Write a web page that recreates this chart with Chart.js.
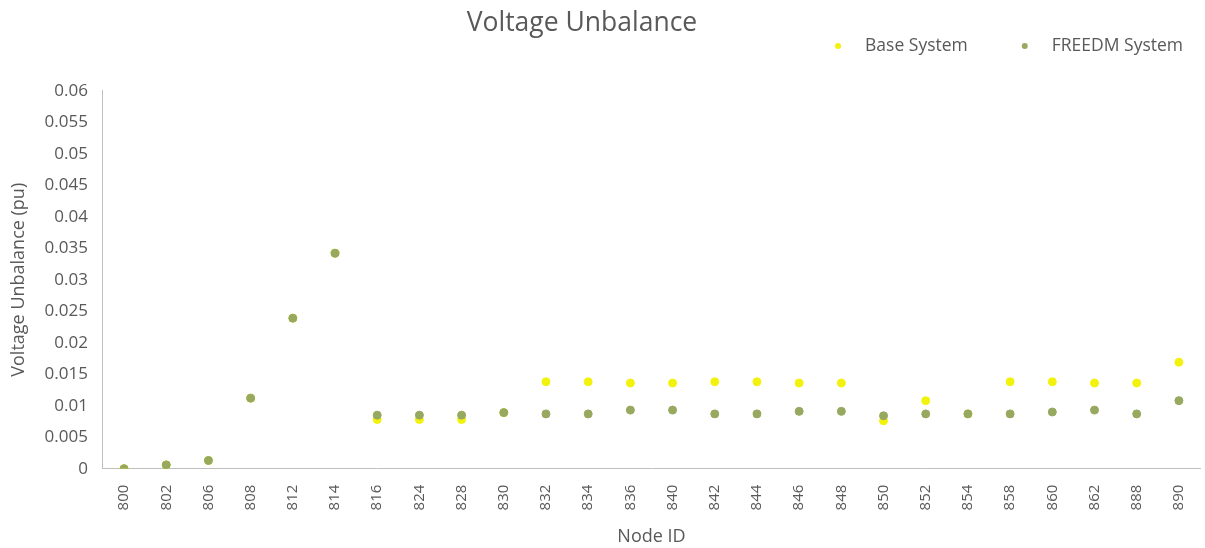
<!DOCTYPE html>
<html>
<head>
<meta charset="utf-8">
<script src="https://cdn.jsdelivr.net/npm/chart.js@4/dist/chart.umd.min.js"></script>
<style>
  html, body { margin: 0; padding: 0; background: #fff; }
  #wrap { width: 1205px; height: 548px; position: relative; }
</style>
</head>
<body>
<div id="wrap"><canvas id="unbalanceChart"></canvas></div>
<script>
// node ids along the x axis
const nodeIds = ['800', '802', '806', '808', '812', '814', '816', '824', '828', '830', '832', '834', '836',
                 '840', '842', '844', '846', '848', '850', '852', '854', '858', '860', '862', '888', '890'];

// voltage unbalance (pu)
const baseSystem = [0, 0.0006, 0.0013, 0.0112, 0.0239, 0.0342, 0.0078, 0.0078, 0.0078, 0.0089, 0.0138, 0.0138, 0.0136,
                    0.0136, 0.0138, 0.0138, 0.0136, 0.0136, 0.0076, 0.0108, 0.0087, 0.0138, 0.0138, 0.0136, 0.0136, 0.0169];
const freedmSystem = [0, 0.0006, 0.0013, 0.0112, 0.0239, 0.0342, 0.0085, 0.0085, 0.0085, 0.0089, 0.0087, 0.0087, 0.0093,
                      0.0093, 0.0087, 0.0087, 0.0091, 0.0091, 0.0084, 0.0087, 0.0087, 0.0087, 0.0090, 0.0093, 0.0087, 0.0108];

const yMin = 0, yMax = 0.06, yStep = 0.005;

const baseColor = '#f2f20c';
const freedmColor = '#97a85f';
const textColor = '#595959';
const fontFamily = '"Open Sans", "DejaVu Sans", sans-serif';

// legend drawn at the top right, excel style (dot, text, wide gap)
const topLegend = {
    id: 'topLegend',
    afterLayout(chart) {
        // excel puts the title a bit left of the middle
        if (chart.titleBlock) chart.titleBlock.right -= 44;
    },
    afterDraw(chart) {
        const c = chart.ctx;
        const sets = chart.data.datasets;
        c.save();
        c.font = '17.5px ' + fontFamily;
        c.textBaseline = 'middle';
        let x = chart.width - 22;
        const y = 46;
        for (let i = sets.length - 1; i >= 0; i--) {
            const w = c.measureText(sets[i].label).width;
            x -= w;
            c.fillStyle = textColor;
            c.fillText(sets[i].label, x, y);
            c.beginPath();
            c.arc(x - 27, y, 3, 0, Math.PI * 2);
            c.fillStyle = sets[i].pointBackgroundColor;
            c.fill();
            x -= 27 + 57;
        }
        c.restore();
    }
};

const ctx = document.getElementById('unbalanceChart').getContext('2d');
new Chart(ctx, {
    type: 'line',
    data: {
        labels: nodeIds,
        datasets: [{
            label: 'Base System',
            data: baseSystem,
            order: 1,
            showLine: false,
            pointRadius: 4,
            pointHoverRadius: 4,
            pointBackgroundColor: baseColor,
            pointBorderColor: baseColor,
            borderColor: baseColor
        }, {
            label: 'FREEDM System',
            data: freedmSystem,
            order: 0,
            showLine: false,
            pointRadius: 4,
            pointHoverRadius: 4,
            pointBackgroundColor: freedmColor,
            pointBorderColor: freedmColor,
            borderColor: freedmColor
        }]
    },
    options: {
        responsive: true,
        maintainAspectRatio: false,
        animation: false,
        layout: { padding: { left: 8, right: 5, top: 0, bottom: 0 } },
        plugins: {
            title: {
                display: true,
                text: 'Voltage Unbalance',
                color: textColor,
                font: { family: fontFamily, size: 26.5, weight: 'normal' },
                padding: { top: 8, bottom: 51 }
            },
            legend: { display: false },
            tooltip: { enabled: false }
        },
        scales: {
            x: {
                offset: true,
                grid: { display: false, drawTicks: false },
                border: { color: '#bfbfbf', width: 1 },
                afterFit: s => { s.paddingLeft = 0; s.paddingRight = 0; },
                ticks: {
                    color: textColor,
                    font: { family: fontFamily, size: 15 },
                    minRotation: 90,
                    maxRotation: 90,
                    autoSkip: false,
                    padding: 16
                },
                title: {
                    display: true,
                    text: 'Node ID',
                    color: textColor,
                    font: { family: fontFamily, size: 18 },
                    padding: { top: 0, bottom: 0 }
                }
            },
            y: {
                min: yMin,
                max: yMax,
                grid: { display: false, drawTicks: false },
                border: { color: '#bfbfbf', width: 1 },
                ticks: {
                    stepSize: yStep,
                    color: textColor,
                    font: { family: fontFamily, size: 17 },
                    padding: 15,
                    callback: value => String(parseFloat(value.toFixed(4)))
                },
                title: {
                    display: true,
                    text: 'Voltage Unbalance (pu)',
                    color: textColor,
                    font: { family: fontFamily, size: 18 },
                    padding: { top: 0, bottom: 0 }
                }
            }
        }
    },
    plugins: [topLegend]
});
</script>
</body>
</html>
